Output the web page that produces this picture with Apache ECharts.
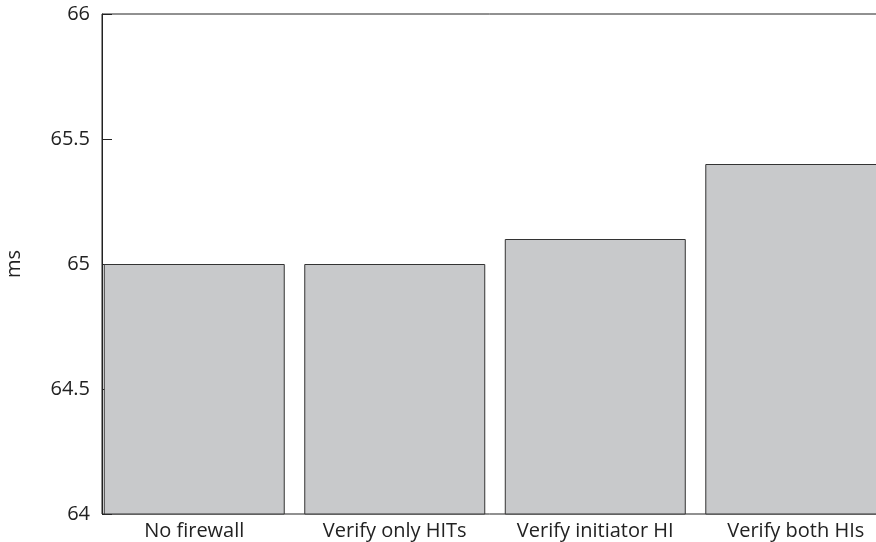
<!DOCTYPE html>
<html>
<head>
<meta charset="utf-8">
<script src="https://cdn.jsdelivr.net/npm/echarts@6/dist/echarts.min.js"></script>
<style>
  html, body { margin: 0; padding: 0; background: #fff; }
  #chart { width: 876px; height: 542px; }
</style>
</head>
<body>
<div id="chart"></div>
<script>
// Latency per firewall configuration (ms)
const categories = ['No firewall', 'Verify only HITs', 'Verify initiator HI', 'Verify both HIs'];
const latencyMs = [65.0, 65.0, 65.1, 65.4];
const yTicks = [64, 64.5, 65, 65.5, 66];

const fontFamily = '"Open Sans", "DejaVu Sans", sans-serif';
const chart = echarts.init(document.getElementById('chart'), null, { renderer: 'canvas' });

// bars are placed on a numeric x scale (index of each category)
const barData = latencyMs.map((v, i) => [i, v]);

chart.setOption({
  animation: false,
  backgroundColor: '#ffffff',
  grid: {
    left: 102, top: 14, right: -2, bottom: 28,
    outerBoundsMode: 'none',
    containLabel: false,
    show: true, borderColor: '#222', borderWidth: 1, backgroundColor: 'transparent'
  },
  xAxis: {
    type: 'value',
    min: -0.46,
    max: 3.41,
    axisLine: { show: false },
    axisTick: { show: false },
    splitLine: { show: false },
    axisLabel: {
      customValues: [0, 1, 2, 3],
      formatter: v => categories[Math.round(v)] || '',
      color: '#222',
      fontSize: 20,
      fontFamily: fontFamily,
      margin: 7
    }
  },
  yAxis: {
    type: 'value',
    min: yTicks[0],
    max: yTicks[yTicks.length - 1],
    interval: 0.5,
    name: 'ms',
    nameLocation: 'middle',
    nameGap: 78,
    nameRotate: 90,
    nameTextStyle: { color: '#222', fontSize: 20, fontFamily: fontFamily },
    axisLine: { show: true, onZero: false, lineStyle: { color: '#222', width: 1 } },
    axisTick: { show: true, inside: true, length: 10, lineStyle: { color: '#222' } },
    splitLine: { show: false },
    axisLabel: {
      color: '#222',
      fontSize: 20,
      fontFamily: fontFamily,
      margin: 12,
      formatter: v => String(v)
    }
  },
  series: [{
    type: 'bar',
    data: barData,
    barWidth: 181,
    clip: true,
    itemStyle: { color: '#c8c9cb', borderColor: '#333', borderWidth: 1 }
  }]
});
</script>
</body>
</html>
